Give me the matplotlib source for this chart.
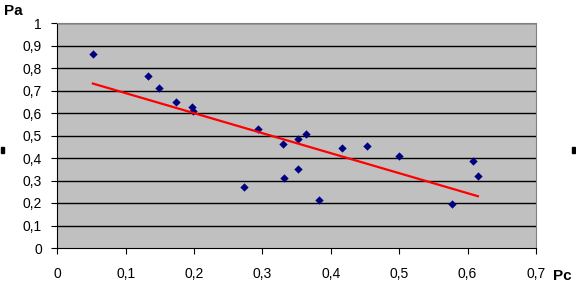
import numpy as np
import matplotlib.pyplot as plt
from matplotlib.patches import Rectangle

# values
pc = [0.052, 0.133, 0.149, 0.174, 0.197, 0.199, 0.294, 0.330, 0.352, 0.363,
      0.417, 0.453, 0.499, 0.273, 0.332, 0.352, 0.383, 0.608, 0.615, 0.577]
pa = [0.862, 0.763, 0.710, 0.649, 0.625, 0.607, 0.528, 0.461, 0.483, 0.505,
      0.443, 0.452, 0.409, 0.270, 0.310, 0.350, 0.213, 0.385, 0.319, 0.194]
x_ticks = [0, 0.1, 0.2, 0.3, 0.4, 0.5, 0.6, 0.7]
y_ticks = [0, 0.1, 0.2, 0.3, 0.4, 0.5, 0.6, 0.7, 0.8, 0.9, 1]

plt.rcParams['font.family'] = ['Liberation Sans', 'DejaVu Sans']

fig = plt.figure(figsize=(5.76, 2.95), dpi=100)
ax = fig.add_axes([57.3 / 576, 47 / 295, (536 - 57.3) / 576, (248 - 23) / 295])
ax.set_facecolor('#c0c0c0')

for y in y_ticks[1:]:
    ax.axhline(y, color='black', lw=1.0, zorder=1)

ax.scatter(pc, pa, marker='D', s=18, color='#000080', zorder=3, linewidths=0)

# linear trendline, drawn over the points like the original
k, b = np.polyfit(pc, pa, 1)
xs = np.array([min(pc), max(pc)])
ax.plot(xs, k * xs + b, color='#ff0000', lw=1.6, zorder=4)

ax.set_xlim(0, 0.7)
ax.set_ylim(0, 1)
ax.set_xticks(x_ticks)
ax.set_yticks(y_ticks)
ax.set_xticklabels([f'{v:g}'.replace('.', ',') for v in x_ticks])
ax.set_yticklabels([f'{v:g}'.replace('.', ',') for v in y_ticks])
ax.tick_params(axis='x', direction='out', length=4, pad=10, labelsize=10, colors='black')
ax.tick_params(axis='y', direction='out', length=4, pad=7, labelsize=10, colors='black')
for s in ['left', 'bottom']:
    ax.spines[s].set_color('black')
for s in ['top', 'right']:
    ax.spines[s].set_color('#808080')

fig.text(13 / 576, 1 - 11 / 295, 'Pa', fontsize=11, fontweight='bold', ha='center', va='center')
fig.text(562 / 576, 1 - 276 / 295, 'Pc', fontsize=11, fontweight='bold', ha='center', va='center')

# small handles at the chart edges
fig.patches.append(Rectangle((1 / 576, 1 - 153 / 295), 3 / 576, 6 / 295,
                             transform=fig.transFigure, color='black'))
fig.patches.append(Rectangle((572 / 576, 1 - 153 / 295), 3 / 576, 6 / 295,
                             transform=fig.transFigure, color='black'))

fig.savefig('out.png')
